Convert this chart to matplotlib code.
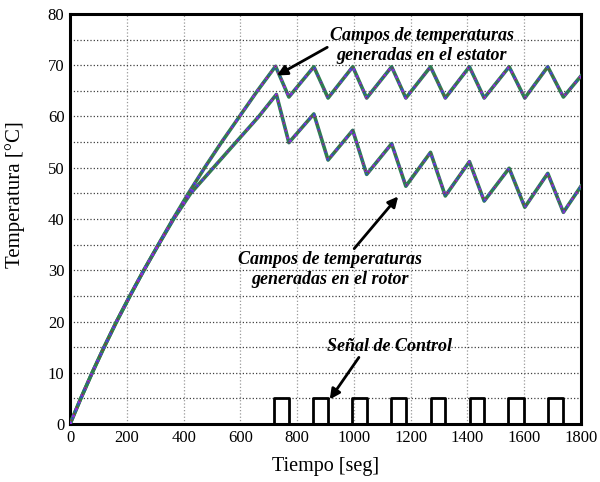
import matplotlib
matplotlib.use('Agg')
import matplotlib.pyplot as plt

# Datos
t_estator = [0, 38, 78, 120, 164, 211, 260, 311, 363, 417, 474, 534, 597, 660, 724,
             771, 859, 909, 996, 1045, 1133, 1183, 1270, 1322, 1407, 1459, 1547, 1602,
             1683, 1738, 1800]
T_estator = [0, 5, 10, 15, 20, 25, 30, 35, 40, 45, 50, 55, 60, 65, 69.8,
             63.8, 69.7, 63.6, 69.7, 63.6, 69.7, 63.6, 69.7, 63.6, 69.7, 63.6, 69.7, 63.6,
             69.7, 63.8, 67.9]

t_rotor = [0, 38, 78, 120, 164, 211, 260, 312, 365, 425, 505, 585, 665, 727,
           771, 859, 909, 996, 1045, 1133, 1183, 1270, 1322, 1407, 1459, 1547, 1602,
           1683, 1738, 1800]
T_rotor = [0, 5, 10, 15, 20, 25, 30, 35, 40, 45, 50, 55, 60, 64.3,
           54.9, 60.5, 51.5, 57.3, 48.7, 54.7, 46.4, 53.0, 44.5, 51.2, 43.5, 49.9, 42.3,
           48.9, 41.3, 46.4]

pulso_on = [720, 857, 994, 1130, 1270, 1408, 1544, 1683]
pulso_off = [771, 909, 1045, 1184, 1322, 1460, 1598, 1736]
nivel_pulso = 5

plt.rcParams['font.family'] = ['Liberation Serif', 'DejaVu Serif']

fig = plt.figure(figsize=(6, 4.82), dpi=100)
ax = fig.add_axes([0.1167, 0.1203, 0.8516, 0.8507])

# señal de control (escalones)
t_sen = [0]
y_sen = [0]
for a, b in zip(pulso_on, pulso_off):
    t_sen += [a, a, b, b]
    y_sen += [0, nivel_pulso, nivel_pulso, 0]
t_sen.append(1800)
y_sen.append(0)
ax.plot(t_sen, y_sen, color='black', lw=2.0, zorder=3)

# campos de temperatura (varias curvas superpuestas)
for t, T in [(t_estator, T_estator), (t_rotor, T_rotor)]:
    ax.plot(t, T, color='#2e7d4f', lw=2.6, zorder=4)
    ax.plot(t, T, color='#8a2be2', lw=1.8, ls=(0, (1, 2)), zorder=5)
    ax.plot(t, T, color='#3050c0', lw=1.4, ls=(1.5, (1, 3)), zorder=5)
    ax.plot(t, T, color='#8b3a3a', lw=1.0, ls=(2.5, (1, 4)), zorder=5)

ax.set_xlim(0, 1800)
ax.set_ylim(0, 80)
ax.set_xticks(range(0, 1801, 200))
ax.set_yticks(range(0, 81, 10))
ax.set_yticks(range(5, 80, 10), minor=True)
ax.tick_params(axis='both', which='both', length=0, labelsize=12, pad=4)
ax.xaxis.grid(True, ls=':', color='0.6', lw=0.9)
ax.yaxis.grid(True, which='both', ls=':', color='0.25', lw=0.9)
ax.set_axisbelow(True)
for s in ax.spines.values():
    s.set_linewidth(2.2)

ax.set_xlabel('Tiempo [seg]', fontsize=14.5, labelpad=8)
ax.set_ylabel('Temperatura [°C]', fontsize=15)
ax.yaxis.set_label_coords(-0.088, 0.56)

fuente = dict(fontsize=13, fontweight='bold', fontstyle='italic', ha='center', va='center')
ax.annotate('Campos de temperaturas\ngeneradas en el estator', xy=(729, 68.0), xytext=(1240, 73.8),
            arrowprops=dict(arrowstyle='-|>', color='black', lw=2, shrinkA=0, shrinkB=0,
                            mutation_scale=15, relpos=(0.0, 0.5)),
            zorder=6, **fuente)
ax.annotate('Campos de temperaturas\ngeneradas en el rotor', xy=(1156, 44.4), xytext=(915, 30.1),
            arrowprops=dict(arrowstyle='-|>', color='black', lw=2, shrinkA=0, shrinkB=0,
                            mutation_scale=15, relpos=(0.62, 1.0)),
            zorder=6, **fuente)
ax.annotate('Señal de Control', xy=(915, 4.8), xytext=(1125, 15.2),
            arrowprops=dict(arrowstyle='-|>', color='black', lw=2, shrinkA=0, shrinkB=0,
                            mutation_scale=15, relpos=(0.3, 0.3)),
            zorder=6, **fuente)

fig.savefig('out.png', dpi=100)
